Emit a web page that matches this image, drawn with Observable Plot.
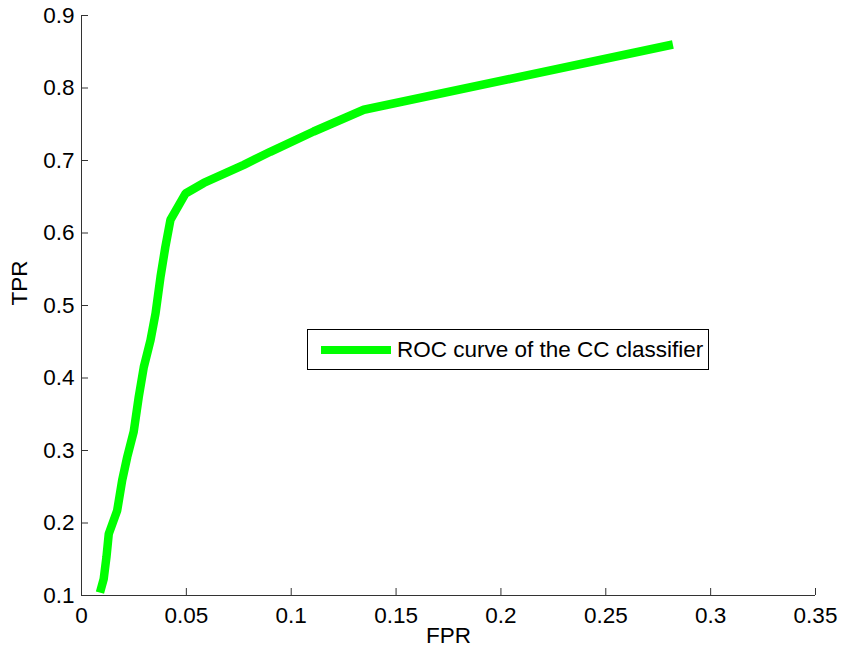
<!DOCTYPE html>
<html>
<head>
<meta charset="utf-8">
<script src="https://cdn.jsdelivr.net/npm/d3@7"></script>
<script src="https://cdn.jsdelivr.net/npm/@observablehq/plot@0.6"></script>
<style>
  body { margin: 0; background: #fff; }
  #wrap { position: relative; width: 841px; height: 655px; font-family: "Liberation Sans", Arial, sans-serif; }
  #legend { position: absolute; left: 307px; top: 329px; width: 400px; height: 39px; border: 1px solid #000; background: #fff; box-sizing: content-box; }
  #legend .swatch { position: absolute; left: 13px; top: 15.5px; width: 70px; height: 8.5px; background: #00ff00; }
  #legend .lab { position: absolute; left: 89px; top: 0; line-height: 40px; font-size: 22.5px; color: #000; white-space: nowrap; }
</style>
</head>
<body>
<div id="wrap"></div>
<script>
// Data
const fpr = [0.0088, 0.0106, 0.0119, 0.013, 0.017, 0.0194, 0.0218, 0.0249, 0.0273, 0.0297, 0.0329, 0.0353, 0.0377, 0.040, 0.0424, 0.0496, 0.0583, 0.0774, 0.090, 0.1107, 0.1346, 0.282];
const tpr = [0.104, 0.123, 0.153, 0.185, 0.217, 0.259, 0.291, 0.326, 0.374, 0.415, 0.452, 0.489, 0.540, 0.581, 0.618, 0.6545, 0.669, 0.694, 0.712, 0.740, 0.770, 0.860];
const xTicks = [0, 0.05, 0.1, 0.15, 0.2, 0.25, 0.3, 0.35];
const xTickLabels = ["0", "0.05", "0.1", "0.15", "0.2", "0.25", "0.3", "0.35"];
const yTicks = [0.1, 0.2, 0.3, 0.4, 0.5, 0.6, 0.7, 0.8, 0.9];
const yTickLabels = ["0.1", "0.2", "0.3", "0.4", "0.5", "0.6", "0.7", "0.8", "0.9"];
const seriesName = "ROC curve of the CC classifier";
const xLabel = "FPR";
const yLabel = "TPR";

const data = fpr.map((x, i) => ({x, y: tpr[i]}));

const W = 841, H = 655;
const mL = 81, mR = 26, mT = 15, mB = 60;
const frameW = W - mL - mR, frameH = H - mT - mB;
const axisColor = "#333";
const fs = 22.5;

const chart = Plot.plot({
  width: W,
  height: H,
  marginLeft: mL,
  marginRight: mR,
  marginTop: mT,
  marginBottom: mB,
  style: {fontFamily: "'Liberation Sans', Arial, sans-serif", fontSize: fs + "px", color: "#000", background: "#fff"},
  x: {domain: [0, 0.35]},
  y: {domain: [0.1, 0.9]},
  marks: [
    Plot.axisX({ticks: xTicks, tickFormat: (d) => xTickLabels[xTicks.indexOf(d)], tickSize: 0, tickPadding: 12, label: null, fontSize: fs}),
    Plot.axisY({ticks: yTicks, tickFormat: (d) => yTickLabels[yTicks.indexOf(d)], tickSize: 0, tickPadding: 7, label: null, fontSize: fs}),
    Plot.tickX(xTicks, {x: d => d, insetTop: frameH - 7, stroke: axisColor}),
    Plot.tickY(yTicks, {y: d => d, insetRight: frameW - 7, stroke: axisColor}),
    Plot.ruleY([0.1], {stroke: axisColor}),
    Plot.ruleX([0], {stroke: axisColor}),
    Plot.line(data, {x: "x", y: "y", stroke: "#00ff00", strokeWidth: 8.5, strokeLinecap: "butt", strokeLinejoin: "miter"}),
    Plot.text([xLabel], {text: d => d, frameAnchor: "bottom", dy: 47, fontSize: fs, fill: "#000"}),
    Plot.text([yLabel], {text: d => d, frameAnchor: "left", dx: -62, rotate: -90, fontSize: fs, fill: "#000"})
  ]
});

const wrap = document.getElementById("wrap");
wrap.appendChild(chart);
const legend = document.createElement("div");
legend.id = "legend";
legend.innerHTML = `<div class="swatch"></div><div class="lab"></div>`;
legend.querySelector(".lab").textContent = seriesName;
wrap.appendChild(legend);
</script>
</body>
</html>
